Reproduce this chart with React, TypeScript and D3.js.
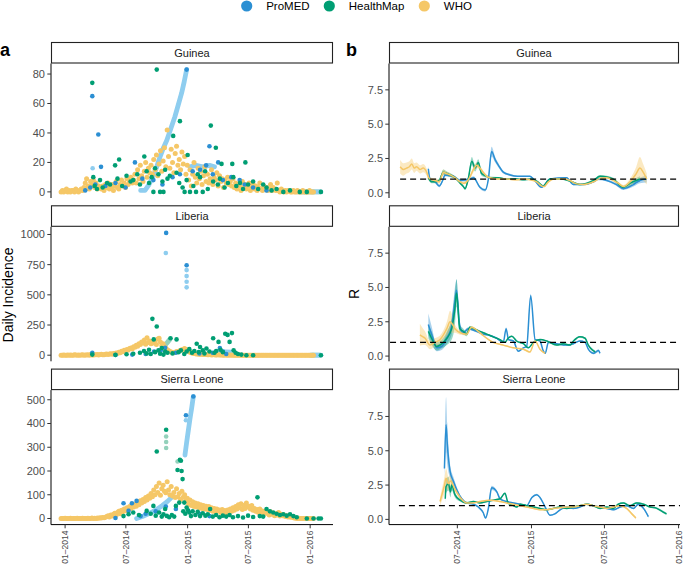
import React from 'react';
import * as d3 from 'd3';

// ---------- categories / colours ----------
const countries = ['Guinea', 'Liberia', 'Sierra Leone'];
const sources = ['ProMED', 'HealthMap', 'WHO'];
const sourceColors = ['#2B8FD3', '#009E73', '#F5C767'];
const imputedColors = ['#8ECDEF', '#94D1BB', '#F8DCA0'];

// ---------- axes ----------
const incidenceTicks = [[0, 20, 40, 60, 80], [0, 250, 500, 750, 1000], [0, 100, 200, 300, 400, 500]];
const incidenceDomains = [[-4.15, 87.15], [-50.6, 1063.6], [-25.7, 540.7]];
const rTicks = [0, 2.5, 5, 7.5];
const rDomain = [-0.38, 9.42];
const dateTicks = ['2014-01-01', '2014-07-01', '2015-01-01', '2015-07-01', '2016-01-01'];
const dayDomainA = [-42, 798];
const dayDomainB = [11.4, 733.5];
const refLineStart = [39, 14, 36];

// ---------- panel a: daily incidence ----------
// WHO: one value every 4 days starting at day -12 (days since 2014-01-01)
const whoStartDay = -12;
const whoStepDays = 4;
const guineaWHO = [
  0, 1, 0, 1, 2, 0, 1, 0, 1, 1, 0, 2, 1, 0, 1, 2, 1,
  3, 6, 9, 4, 2, 7, 5, 8, 3, 6, 2, 4, 3,
  2, 4, 1, 5, 3, 6, 2, 3, 5, 1, 4, 7, 3, 2, 5, 8, 4, 6, 3, 9, 5, 7, 10, 6,
  8, 12, 6, 15, 9, 18, 11, 7, 14, 20, 10, 16, 13,
  18, 12, 22, 15, 25, 11, 19, 28, 14, 21, 30, 17,
  42, 24, 16, 29, 20, 13, 26, 31, 18, 22, 15, 27, 19, 24, 12,
  18, 8, 15, 4, 12, 20, 10, 6, 16, 9, 14, 5, 11, 17, 7,
  12, 6, 9, 15, 5, 10, 8, 13, 4, 11, 7, 9, 3, 8, 6, 10, 5, 7, 4, 9,
  3, 6, 2, 5, 4, 1, 7, 3, 5, 2, 4, 6, 1, 3, 5, 2, 4, 1, 3, 6, 2, 1, 4, 2, 3, 1, 2, 5, 1, 3, 2, 1, 6,
  1, 0, 2, 1, 0, 1, 0, 1, 1, 0, 0, 1, 0, 0, 1, 0, 0, 0, 1, 0, 0, 0, 0, 1, 0, 0, 0,
];
const liberiaWHO = [
  0, 0, 1, 0, 0, 2, 0, 1, 0, 0, 3, 1, 0, 2, 0, 1, 4, 0, 2, 1, 3, 0, 5, 2, 1, 4, 3, 6, 2, 5, 8, 4, 3, 7, 10, 6, 9, 12, 8, 15, 11,
  18, 14, 25, 20, 32, 28, 40, 35, 48, 42, 55, 60, 52,
  70, 65, 82, 75, 95, 88, 110, 100, 125, 90, 145, 105, 118, 95, 112,
  100, 120, 88, 135, 140, 110, 80, 95, 70, 60,
  45, 38, 30, 26, 22, 20, 25, 30, 28, 35, 40, 45, 50, 55, 48,
  40, 32, 25, 20, 16, 14, 12, 10, 9, 8, 8, 7, 6, 6, 5,
  4, 3, 5, 2, 3, 4, 2, 1, 3, 2, 1, 2, 0, 1, 2, 0, 1, 0, 1, 0,
  0, 0, 0, 0, 0, 0, 0, 0, 0, 0, 0, 0, 0, 0, 0, 0, 0, 0, 0, 0,
  0, 0, 0, 0, 0, 0, 0, 0, 0, 0, 0, 0, 0, 0, 0, 0, 0, 0, 0, 0,
  0, 0, 0, 0, 0, 0, 0, 0, 0, 0, 0, 0, 0, 0, 0, 0, 0, 0, 0, 0,
];
const sierraLeoneWHO = [
  0, 0, 0, 1, 0, 0, 0, 1, 0, 0, 0, 0, 1, 0, 0, 0, 1, 0, 0, 0, 1, 0, 0, 2, 0, 1, 0, 2, 1, 3, 2, 4, 3, 5,
  8, 12, 6, 15, 10, 18, 22, 14, 25, 30, 20, 35, 28, 40, 33, 45, 38, 50, 42, 55,
  48, 60, 52, 70, 58, 75, 65, 80, 72, 88, 78, 95,
  85, 105, 92, 120, 100, 135, 110, 150, 98, 125, 140, 115, 108,
  155, 120, 100, 135, 95, 110, 88, 125, 92, 105, 80, 115, 90, 100, 75,
  85, 60, 78, 55, 70, 50, 65, 48, 62, 45, 58, 42, 55, 40, 52,
  38, 50, 35, 45, 30, 42, 28, 40, 32, 36, 25, 38, 30, 34, 22, 36, 28, 40, 30, 45,
  35, 50, 40, 58, 45, 62, 38, 55, 42, 65, 48, 52, 40, 55, 35,
  42, 30, 38, 25, 40, 28, 32, 20, 30, 22,
  25, 15, 28, 18, 22, 12, 20, 15, 25, 10, 18, 12, 15, 8, 12, 6, 10, 5, 8, 3,
  2, 1, 0, 1, 0, 0, 0, 0, 0, 0, 0, 0, 0, 0, 0,
];

// HealthMap: [day, daily incidence]
const guineaHM = [
  [81, 74], [84, 10], [88, 4], [95, 2], [104, 8], [112, 3], [125, 6], [134, 5], [149, 18], [156, 9], [161, 22], [170, 4],
  [183, 11], [195, 7], [203, 8], [215, 12], [223, 5], [236, 24], [243, 14], [250, 6], [258, 10], [263, 0], [268, 16],
  [273, 83], [278, 12], [283, 0], [290, 7], [293, 0], [298, 15], [305, 9], [312, 11], [322, 38], [332, 13], [340, 6],
  [342, 48], [350, 3], [356, 0], [362, 8], [365, 25], [372, 0], [382, 4], [390, 0], [395, 12], [402, 10], [410, 0],
  [417, 14], [425, 2], [434, 45], [441, 7], [449, 30], [455, 5], [461, 9], [466, 19], [475, 3], [485, 6], [498, 19],
  [501, 10], [510, 4], [521, 6], [530, 2], [537, 20], [545, 5], [560, 7], [575, 2], [590, 5], [600, 3], [615, 1],
  [630, 2], [650, 0], [670, 1], [699, 0], [720, 0], [762, 0],
];
const liberiaHM = [
  [81, 5], [150, 3], [183, 8], [203, 12], [223, 20], [235, 35], [243, 15], [250, 45], [255, 10], [260, 301], [264, 131],
  [268, 25], [273, 238], [278, 40], [283, 12], [288, 60], [293, 5], [298, 30], [305, 20], [314, 140], [320, 15],
  [332, 131], [338, 25], [345, 40], [355, 10], [362, 30], [370, 50], [378, 20], [385, 35], [392, 95], [398, 25],
  [402, 68], [410, 40], [415, 15], [421, 55], [430, 30], [441, 140], [445, 20], [450, 35], [457, 110], [463, 45],
  [470, 25], [477, 178], [484, 168], [490, 110], [497, 183], [502, 40], [508, 20], [515, 10], [525, 5], [540, 0],
  [560, 0], [762, 0],
];
const sierraLeoneHM = [
  [174, 10], [189, 18], [203, 25], [220, 15], [243, 32], [255, 20], [263, 53], [270, 12], [273, 282], [280, 25],
  [288, 8], [293, 18], [298, 40], [301, 374], [303, 11], [310, 5], [318, 15], [325, 8], [330, 53], [335, 204],
  [340, 67], [342, 247], [345, 243], [347, 200], [350, 166], [352, 30], [355, 67], [358, 20], [362, 46], [366, 35],
  [370, 25], [375, 10], [380, 30], [388, 15], [395, 28], [402, 10], [410, 22], [418, 12], [425, 18], [432, 40],
  [440, 8], [450, 15], [460, 5], [470, 12], [480, 8], [490, 15], [500, 5], [515, 10], [530, 4], [545, 12], [560, 6],
  [573, 89], [580, 10], [590, 8], [600, 40], [610, 30], [620, 25], [630, 20], [640, 15], [650, 18], [660, 12],
  [670, 18], [680, 10], [690, 5], [720, 0], [740, 0], [755, 0], [762, 0],
];

// ProMED: [day, daily incidence]
const guineaPM = [
  [60, 1], [75, 3], [81, 65], [90, 5], [99, 39], [107, 17], [120, 4], [150, 6], [180, 3], [208, 20], [230, 9],
  [263, 8], [290, 5], [320, 10], [342, 12], [362, 83], [380, 14], [402, 15], [420, 18], [430, 31], [440, 12],
  [456, 20], [470, 8], [495, 10], [520, 8], [535, 5], [560, 3], [600, 1],
];
const liberiaPM = [
  [81, 20], [150, 2], [200, 5], [240, 10], [265, 30], [285, 40], [298, 62], [301, 1013], [330, 20], [362, 745],
  [400, 15], [440, 20], [461, 60], [470, 30], [480, 10],
];
const sierraLeonePM = [
  [150, 2], [174, 64], [189, 32], [199, 64], [213, 74], [225, 10], [240, 20], [270, 30], [300, 50], [330, 40],
  [360, 435], [382, 514], [400, 20], [430, 10],
];

// Imputed (light) values, as runs of [day, value]
const guineaPMImputed = [
  [[82, 16]],
  [[225, 1], [238, 1], [250, 5], [263, 11], [273, 17], [283, 24], [293, 30], [303, 35], [315, 43], [327, 51], [337, 59], [347, 67], [355, 75], [362, 83]],
  [[372, 17], [390, 18], [410, 17], [430, 18], [445, 17]],
  [[690, 0], [762, 0]],
];
const liberiaPMImputed = [
  [[300, 846]], [[362, 705]], [[362, 655]], [[362, 608]], [[362, 562]],
  [[455, 30], [500, 25]],
  [[730, 0], [762, 0]],
];
const sierraLeonePMImputed = [
  [[213, 0], [230, 8], [245, 18], [260, 28], [275, 40], [290, 55], [305, 72], [318, 90]],
  [[357, 267], [362, 320], [367, 370], [372, 420], [377, 465], [382, 514]],
  [[360, 414]],
];
const guineaHMImputed = [[[700, 0], [760, 0]]];
const liberiaHMImputed = [[[293, 68], [303, 100], [312, 131]], [[735, 0], [760, 0]]];
const sierraLeoneHMImputed = [[[301, 345]], [[301, 322]], [[301, 297]], [[335, 240]]];

// ---------- panel b: R estimates [day, R, CI half-width] ----------
const guineaR_PM = [
  [109, 1.75, 0.2], [113, 1.0, 0.15], [117, 0.9, 0.1], [126, 0.8, 0.1], [136, 0.5, 0.1], [146, 1.0, 0.1], [150, 1.3, 0.12],
  [163, 1.25, 0.1], [171, 1.2, 0.1], [188, 0.9, 0.1], [212, 1.0, 0.1], [221, 1.1, 0.1], [237, 0.4, 0.1], [250, 0.2, 0.1],
  [258, 1.0, 0.15], [266, 3.0, 0.35], [275, 2.4, 0.2], [283, 2.0, 0.15], [295, 1.5, 0.1], [312, 1.3, 0.08], [330, 1.2, 0.05],
  [361, 1.2, 0.05], [370, 1.0, 0.05], [390, 0.4, 0.05], [411, 1.0, 0.05], [452, 1.1, 0.05], [469, 0.6, 0.05], [494, 0.6, 0.05],
  [519, 0.8, 0.05], [531, 1.0, 0.08], [552, 0.9, 0.08], [576, 0.6, 0.1], [593, 0.3, 0.1], [618, 0.6, 0.15], [634, 0.9, 0.2],
  [651, 1.0, 0.25],
];
const guineaR_HM = [
  [109, 1.1, 0.15], [117, 0.8, 0.1], [126, 0.8, 0.1], [136, 0.9, 0.1], [146, 1.5, 0.2], [155, 1.4, 0.15], [163, 1.3, 0.15],
  [175, 1.1, 0.1], [188, 0.7, 0.1], [196, 0.45, 0.1], [200, 0.3, 0.1], [208, 1.0, 0.2], [217, 2.3, 0.3], [225, 1.8, 0.25],
  [233, 2.2, 0.25], [241, 1.4, 0.15], [254, 1.2, 0.1], [262, 1.1, 0.08], [283, 1.1, 0.05], [303, 1.0, 0.05], [328, 1.0, 0.05],
  [345, 0.95, 0.05], [362, 1.0, 0.05], [378, 0.85, 0.05], [394, 0.5, 0.05], [411, 1.0, 0.05], [440, 1.0, 0.05], [465, 0.8, 0.05],
  [485, 0.6, 0.05], [519, 0.9, 0.08], [535, 1.2, 0.1], [552, 1.15, 0.1], [568, 1.0, 0.1], [593, 0.4, 0.1], [610, 0.7, 0.15],
  [634, 1.0, 0.2],
];
const guineaR_WHO = [
  [39, 1.9, 0.5], [47, 1.7, 0.45], [55, 1.8, 0.4], [62, 1.9, 0.4], [68, 2.1, 0.4], [74, 1.8, 0.35], [80, 1.9, 0.3], [88, 1.7, 0.3],
  [96, 1.8, 0.3], [105, 1.5, 0.25], [110, 1.1, 0.2], [117, 0.95, 0.15], [125, 0.9, 0.15], [136, 0.8, 0.15], [142, 1.2, 0.2],
  [146, 1.5, 0.2], [154, 1.4, 0.15], [163, 1.3, 0.12], [175, 1.1, 0.1], [188, 0.8, 0.1], [196, 0.7, 0.1], [204, 0.8, 0.1],
  [213, 1.2, 0.15], [221, 1.7, 0.2], [229, 2.0, 0.2], [237, 1.8, 0.15], [245, 1.5, 0.1], [254, 1.2, 0.08], [262, 1.1, 0.06],
  [270, 1.05, 0.05], [283, 1.0, 0.05], [303, 1.0, 0.05], [328, 0.95, 0.05], [345, 1.0, 0.05], [362, 0.95, 0.05], [378, 0.8, 0.05],
  [390, 0.5, 0.05], [396, 0.45, 0.05], [407, 0.8, 0.05], [420, 1.0, 0.05], [445, 1.0, 0.05], [460, 0.9, 0.05], [477, 0.65, 0.05],
  [494, 0.6, 0.05], [519, 0.8, 0.05], [535, 1.05, 0.08], [552, 1.1, 0.08], [568, 0.9, 0.08], [580, 0.7, 0.1], [593, 0.45, 0.12],
  [610, 0.8, 0.25], [625, 1.4, 0.5], [634, 1.8, 0.8], [642, 1.5, 0.6], [651, 1.0, 0.4],
];
const liberiaR_PM = [
  [109, 2.3, 0.8], [117, 1.6, 0.6], [130, 0.6, 0.25], [142, 0.7, 0.25], [155, 1.3, 0.4], [167, 2.2, 0.6], [176, 4.2, 1.0],
  [179, 4.8, 0.8], [187, 2.2, 0.3], [196, 1.7, 0.15], [208, 2.0, 0.1], [229, 1.8, 0.08], [245, 1.6, 0.06], [262, 1.5, 0.05],
  [279, 1.3, 0.05], [295, 1.0, 0.05], [302, 2.0, 0.1], [308, 1.2, 0.06], [320, 1.1, 0.05], [332, 0.35, 0.05], [345, 0.6, 0.05],
  [353, 0.7, 0.05], [363, 4.4, 0.15], [374, 1.2, 0.06], [386, 1.1, 0.05], [394, 0.4, 0.05], [399, 0.2, 0.05], [407, 1.0, 0.05],
  [427, 0.9, 0.05], [452, 0.8, 0.05], [469, 0.9, 0.05], [485, 1.1, 0.05], [498, 1.0, 0.06], [506, 0.5, 0.06], [519, 0.2, 0.08],
  [531, 0.4, 0.1], [535, 0.2, 0.1],
];
const liberiaR_HM = [
  [109, 1.8, 0.5], [117, 1.3, 0.5], [130, 0.7, 0.3], [138, 0.8, 0.3], [155, 1.3, 0.5], [167, 2.0, 0.8], [175, 3.5, 1.2],
  [179, 4.6, 1.0], [187, 2.0, 0.3], [196, 1.8, 0.2], [204, 1.6, 0.15], [212, 2.1, 0.1], [229, 1.9, 0.08], [237, 1.8, 0.06],
  [254, 1.6, 0.05], [270, 1.4, 0.05], [287, 1.2, 0.05], [299, 1.0, 0.05], [307, 1.3, 0.05], [316, 1.45, 0.05], [328, 1.1, 0.05],
  [345, 0.9, 0.05], [357, 0.6, 0.05], [370, 1.0, 0.05], [386, 1.2, 0.05], [403, 1.1, 0.05], [427, 0.8, 0.05], [444, 0.9, 0.05],
  [461, 0.8, 0.05], [469, 1.1, 0.06], [477, 1.3, 0.06], [485, 1.4, 0.07], [498, 1.3, 0.08], [506, 0.8, 0.08], [514, 0.5, 0.1],
  [523, 0.3, 0.1],
];
const liberiaR_WHO = [
  [88, 1.55, 0.8], [96, 1.4, 0.6], [101, 1.3, 0.5], [113, 0.8, 0.3], [125, 1.0, 0.3], [138, 1.2, 0.3], [155, 2.0, 0.5],
  [163, 2.5, 0.8], [175, 2.0, 0.3], [188, 1.7, 0.15], [204, 1.6, 0.1], [216, 2.1, 0.1], [229, 1.9, 0.08], [245, 1.5, 0.06],
  [270, 1.0, 0.05], [295, 0.8, 0.05], [320, 0.6, 0.05], [345, 0.5, 0.05], [361, 0.3, 0.05], [374, 1.1, 0.05], [386, 0.5, 0.05],
  [399, 0.2, 0.05],
];
const sierraLeoneR_PM = [
  [149, 3.7, 0.6], [153, 6.9, 2.0], [156, 5.5, 1.5], [163, 3.5, 0.5], [171, 2.8, 0.3], [179, 2.2, 0.2], [192, 1.5, 0.1],
  [204, 1.2, 0.08], [221, 1.1, 0.06], [233, 0.9, 0.06], [245, 0.5, 0.08], [251, 0.1, 0.08], [258, 0.8, 0.1], [266, 2.3, 0.15],
  [279, 2.0, 0.1], [287, 1.5, 0.08], [303, 1.3, 0.06], [320, 1.2, 0.05], [336, 1.1, 0.05], [353, 1.0, 0.05], [366, 1.6, 0.06],
  [378, 1.8, 0.06], [386, 1.6, 0.06], [399, 0.9, 0.05], [411, 0.3, 0.05], [423, 0.4, 0.05], [436, 0.7, 0.05], [452, 0.9, 0.05],
  [469, 0.8, 0.05], [485, 0.9, 0.05], [502, 1.1, 0.05], [518, 1.0, 0.05], [535, 0.9, 0.05], [552, 0.8, 0.05], [568, 0.7, 0.05],
  [585, 0.9, 0.05], [601, 1.0, 0.06], [618, 0.8, 0.06], [630, 1.1, 0.08], [643, 0.8, 0.08], [655, 0.2, 0.1],
];
const sierraLeoneR_HM = [
  [151, 1.5, 0.4], [153, 2.4, 0.5], [159, 2.6, 0.5], [164, 2.0, 0.4], [167, 2.5, 0.4], [175, 1.8, 0.2], [188, 1.4, 0.1],
  [204, 1.2, 0.08], [221, 1.3, 0.06], [237, 1.2, 0.05], [254, 1.3, 0.05], [270, 1.4, 0.05], [287, 1.5, 0.05], [299, 1.9, 0.06],
  [307, 1.2, 0.05], [320, 1.0, 0.05], [328, 0.9, 0.05], [337, 1.1, 0.05], [353, 1.0, 0.05], [370, 0.9, 0.05], [386, 0.8, 0.05],
  [403, 0.7, 0.05], [419, 0.8, 0.05], [436, 0.9, 0.05], [452, 0.8, 0.05], [469, 0.9, 0.05], [485, 1.0, 0.05], [502, 1.1, 0.05],
  [518, 1.0, 0.05], [535, 0.8, 0.05], [552, 0.9, 0.05], [568, 0.8, 0.05], [580, 1.1, 0.06], [593, 1.2, 0.06], [609, 1.0, 0.06],
  [626, 1.2, 0.06], [643, 1.1, 0.06], [659, 0.9, 0.06], [676, 0.8, 0.06], [688, 0.6, 0.08], [700, 0.4, 0.08],
];
const sierraLeoneR_WHO = [
  [138, 1.3, 0.3], [149, 2.5, 0.6], [153, 3.0, 0.7], [159, 2.6, 0.5], [164, 2.8, 0.4], [175, 2.2, 0.2], [188, 1.6, 0.1],
  [204, 1.2, 0.08], [221, 1.2, 0.06], [237, 1.3, 0.05], [262, 1.4, 0.05], [287, 1.3, 0.05], [303, 1.2, 0.05], [320, 1.1, 0.05],
  [336, 1.0, 0.05], [353, 0.9, 0.05], [370, 0.8, 0.05], [386, 0.7, 0.05], [403, 0.7, 0.05], [419, 0.8, 0.05], [436, 0.85, 0.05],
  [452, 0.9, 0.05], [469, 0.9, 0.05], [485, 1.0, 0.05], [502, 1.1, 0.05], [518, 1.0, 0.05], [535, 0.9, 0.05], [552, 0.8, 0.05],
  [568, 0.9, 0.05], [585, 1.0, 0.05], [601, 0.8, 0.06], [614, 0.4, 0.08], [624, 0.1, 0.1],
];

const whoSeries = [guineaWHO, liberiaWHO, sierraLeoneWHO];
const hmSeries = [guineaHM, liberiaHM, sierraLeoneHM];
const pmSeries = [guineaPM, liberiaPM, sierraLeonePM];
const pmImputed = [guineaPMImputed, liberiaPMImputed, sierraLeonePMImputed];
const hmImputed = [guineaHMImputed, liberiaHMImputed, sierraLeoneHMImputed];
const rSeries = [
  [guineaR_PM, guineaR_HM, guineaR_WHO],
  [liberiaR_PM, liberiaR_HM, liberiaR_WHO],
  [sierraLeoneR_PM, sierraLeoneR_HM, sierraLeoneR_WHO],
];

// ---------- layout ----------
const W = 685;
const H = 566;
const FONT = '"Liberation Sans", Arial, Helvetica, sans-serif';
const A_LEFT = 51;
const A_RIGHT = 333;
const B_LEFT = 389;
const B_RIGHT = 680;
const FIRST_STRIP = 42;
const STRIP_H = 21.5;
const PANEL_H = 134.5;
const ROW_STEP = 163.3;
const PT_R = 2.3;

const dayToDate = (d: number) => new Date(Date.UTC(2014, 0, 1) + d * 86400000);
const fmt = d3.utcFormat('%m\u2013%Y');

function Strip({ x0, x1, y, label }: { x0: number; x1: number; y: number; label: string }) {
  return (
    <g>
      <rect x={x0 + 0.5} y={y + 0.5} width={x1 - x0 - 1} height={STRIP_H - 1} fill="#fff" stroke="#222" strokeWidth={1.1} />
      <text x={(x0 + x1) / 2} y={y + STRIP_H / 2} dy="0.36em" textAnchor="middle" fontSize={11} fill="#1A1A1A" fontFamily={FONT}>
        {label}
      </text>
    </g>
  );
}

function YAxis({ scale, ticks, x, top, bottom, format }: any) {
  return (
    <g>
      <line x1={x} x2={x} y1={top} y2={bottom} stroke="#000" strokeWidth={1} />
      {ticks.map((t: number) => (
        <g key={t}>
          <line x1={x - 3.7} x2={x} y1={scale(t)} y2={scale(t)} stroke="#333" strokeWidth={1} />
          <text x={x - 6} y={scale(t)} dy="0.36em" textAnchor="end" fontSize={11} fill="#4D4D4D" fontFamily={FONT}>
            {format(t)}
          </text>
        </g>
      ))}
    </g>
  );
}

function XAxis({ scale, y, x0, x1 }: any) {
  const ticks = dateTicks.map((s) => new Date(s)).filter((d) => {
    const p = scale(d);
    return p >= x0 - 0.5 && p <= x1 + 0.5;
  });
  return (
    <g>
      <line x1={x0} x2={x1} y1={y} y2={y} stroke="#000" strokeWidth={1} />
      {ticks.map((d, i) => {
        const px = scale(d);
        return (
          <g key={i}>
            <line x1={px} x2={px} y1={y} y2={y + 3.7} stroke="#333" strokeWidth={1} />
            <text
              transform={`translate(${px},${y + 6}) rotate(-90)`}
              dy="0.35em"
              textAnchor="end"
              fontSize={8.5}
              fill="#4D4D4D"
              fontFamily={FONT}
            >
              {fmt(d)}
            </text>
          </g>
        );
      })}
    </g>
  );
}

export default function App() {
  const xA = d3.scaleUtc().domain([dayToDate(dayDomainA[0]), dayToDate(dayDomainA[1])]).range([A_LEFT, A_RIGHT]);
  const xB = d3.scaleUtc().domain([dayToDate(dayDomainB[0]), dayToDate(dayDomainB[1])]).range([B_LEFT, B_RIGHT]);

  const rows = countries.map((country, i) => {
    const sTop = FIRST_STRIP + i * ROW_STEP;
    const pTop = sTop + STRIP_H;
    const pBot = pTop + PANEL_H;
    const yA = d3.scaleLinear().domain(incidenceDomains[i]).range([pBot, pTop]);
    const yB = d3.scaleLinear().domain(rDomain).range([pBot, pTop]);
    const lineA = d3
      .line<number[]>()
      .x((d) => xA(dayToDate(d[0])))
      .y((d) => yA(d[1]));
    const area = d3
      .area<number[]>()
      .x((d) => xB(dayToDate(d[0])))
      .y0((d) => yB(d[1] - d[2]))
      .y1((d) => yB(d[1] + d[2]))
      .curve(d3.curveMonotoneX);
    const lineB = d3
      .line<number[]>()
      .x((d) => xB(dayToDate(d[0])))
      .y((d) => yB(d[1]))
      .curve(d3.curveMonotoneX);

    const who = whoSeries[i].map((v, k) => [whoStartDay + k * whoStepDays, v]);
    const clipA = `clipA${i}`;
    const clipB = `clipB${i}`;

    const imputedGroup = (segs: number[][][], color: string, key: string) => (
      <g key={key}>
        {segs.map((seg, s) =>
          seg.length > 1 ? (
            <path key={s} d={lineA(seg) || ''} fill="none" stroke={color} strokeWidth={4.8} strokeLinecap="round" strokeLinejoin="round" />
          ) : (
            <circle key={s} cx={xA(dayToDate(seg[0][0]))} cy={yA(seg[0][1])} r={PT_R} fill={color} />
          )
        )}
      </g>
    );

    return (
      <g key={country}>
        <defs>
          <clipPath id={clipA}>
            <rect x={A_LEFT} y={pTop} width={A_RIGHT - A_LEFT} height={PANEL_H} />
          </clipPath>
          <clipPath id={clipB}>
            <rect x={B_LEFT} y={pTop} width={B_RIGHT - B_LEFT} height={PANEL_H} />
          </clipPath>
        </defs>

        {/* panel a */}
        <Strip x0={A_LEFT} x1={A_RIGHT} y={sTop} label={country} />
        <g clipPath={`url(#${clipA})`}>
          {imputedGroup(hmImputed[i], imputedColors[1], 'hmi')}
          {imputedGroup(pmImputed[i], imputedColors[0], 'pmi')}
          {who.map((d, k) => (
            <circle key={`w${k}`} cx={xA(dayToDate(d[0]))} cy={yA(d[1])} r={PT_R + 0.2} fill={sourceColors[2]} />
          ))}
          {pmSeries[i].map((d, k) => (
            <circle key={`p${k}`} cx={xA(dayToDate(d[0]))} cy={yA(d[1])} r={PT_R} fill={sourceColors[0]} />
          ))}
          {hmSeries[i].map((d, k) => (
            <circle key={`h${k}`} cx={xA(dayToDate(d[0]))} cy={yA(d[1])} r={PT_R} fill={sourceColors[1]} />
          ))}
        </g>
        <YAxis scale={yA} ticks={incidenceTicks[i]} x={A_LEFT} top={pTop} bottom={pBot} format={(t: number) => String(t)} />
        {i === countries.length - 1 && <XAxis scale={xA} y={pBot} x0={A_LEFT} x1={A_RIGHT} />}

        {/* panel b */}
        <Strip x0={B_LEFT} x1={B_RIGHT - 1} y={sTop} label={country} />
        <g clipPath={`url(#${clipB})`}>
          {rSeries[i].map((s, k) => (
            <path key={`r${k}`} d={area(s) || ''} fill={sourceColors[k]} fillOpacity={0.4} stroke="none" />
          ))}
          {rSeries[i].map((s, k) => (
            <path key={`l${k}`} d={lineB(s) || ''} fill="none" stroke={sourceColors[k]} strokeWidth={1.5} strokeLinejoin="round" />
          ))}
          <line
            x1={xB(dayToDate(refLineStart[i]))}
            x2={B_RIGHT}
            y1={yB(1)}
            y2={yB(1)}
            stroke="#000"
            strokeWidth={1.3}
            strokeDasharray="6,4"
          />
        </g>
        <YAxis scale={yB} ticks={rTicks} x={B_LEFT} top={pTop} bottom={pBot} format={(t: number) => t.toFixed(1)} />
        {i === countries.length - 1 && <XAxis scale={xB} y={pBot} x0={B_LEFT} x1={B_RIGHT} />}
      </g>
    );
  });

  const legendX = [246.7, 329.3, 424.3];

  return (
    <svg width={W} height={H} style={{ position: 'absolute', left: 0, top: 0, background: '#fff' }} fontFamily={FONT}>
      <rect width={W} height={H} fill="#fff" />
      {/* legend */}
      {sources.map((s, k) => (
        <g key={s}>
          <circle cx={legendX[k]} cy={6} r={5.6} fill={sourceColors[k]} />
          <text x={legendX[k] + 19.5} y={6} dy="0.36em" fontSize={11.5} fill="#000" fontFamily={FONT}>
            {s}
          </text>
        </g>
      ))}
      {/* panel letters */}
      <text x={0} y={56} fontSize={18} fontWeight="bold" fontFamily={FONT}>a</text>
      <text x={346} y={56} fontSize={18} fontWeight="bold" fontFamily={FONT}>b</text>
      {/* axis titles */}
      <text transform="translate(12.5,295) rotate(-90)" textAnchor="middle" fontSize={14} fontFamily={FONT}>
        Daily Incidence
      </text>
      <text transform="translate(359,294) rotate(-90)" textAnchor="middle" fontSize={14} fontFamily={FONT}>
        R
      </text>
      {rows}
    </svg>
  );
}
